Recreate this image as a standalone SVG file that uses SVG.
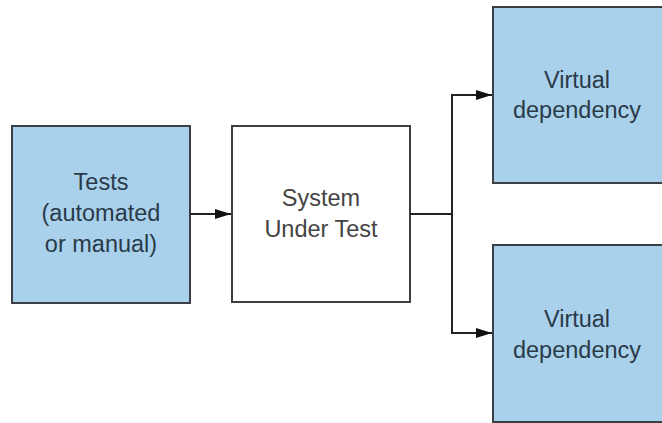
<svg xmlns="http://www.w3.org/2000/svg" width="662" height="423" viewBox="0 0 662 423">
  <defs>
    <style>
      .box { stroke: #3b3f44; stroke-width: 2; }
      .stub { fill: #a9d1ec; }
      .sut { fill: #ffffff; }
      .lbl { font-family: "Liberation Sans", Arial, sans-serif; font-size: 23.5px; text-anchor: middle; }
      .dark { fill: #2a3a48; }
      .grey { fill: #444444; }
      .wire { fill: none; stroke: #222222; stroke-width: 2; }
    </style>
    <marker id="arrow" viewBox="0 0 16 10" refX="16" refY="5" markerWidth="16" markerHeight="10" markerUnits="userSpaceOnUse" orient="auto">
      <path d="M0,0 L16,5 L0,10 z" fill="#111111"/>
    </marker>
  </defs>
  <rect width="662" height="423" fill="#ffffff"/>

  <g id="tests">
    <rect class="box stub" x="12" y="126" width="178" height="177"/>
    <text class="lbl dark" x="101" y="190">Tests</text>
    <text class="lbl dark" x="101" y="221">(automated</text>
    <text class="lbl dark" x="101" y="252">or manual)</text>
  </g>

  <g id="sut">
    <rect class="box sut" x="232" y="126" width="178" height="176"/>
    <text class="lbl grey" x="321" y="206">System</text>
    <text class="lbl grey" x="321" y="237">Under Test</text>
  </g>

  <g id="virtual-top">
    <rect class="box stub" x="493" y="7" width="180" height="176"/>
    <text class="lbl dark" x="577" y="88">Virtual</text>
    <text class="lbl dark" x="577" y="118">dependency</text>
  </g>

  <g id="virtual-bottom">
    <rect class="box stub" x="493" y="245" width="180" height="177"/>
    <text class="lbl dark" x="577" y="327">Virtual</text>
    <text class="lbl dark" x="577" y="358">dependency</text>
  </g>

  <g id="connectors">
    <line class="wire" x1="190" y1="214" x2="231" y2="214" marker-end="url(#arrow)"/>
    <path class="wire" d="M410,214 H452 V95 H492" marker-end="url(#arrow)"/>
    <path class="wire" d="M452,214 V333 H492" marker-end="url(#arrow)"/>
  </g>
</svg>
